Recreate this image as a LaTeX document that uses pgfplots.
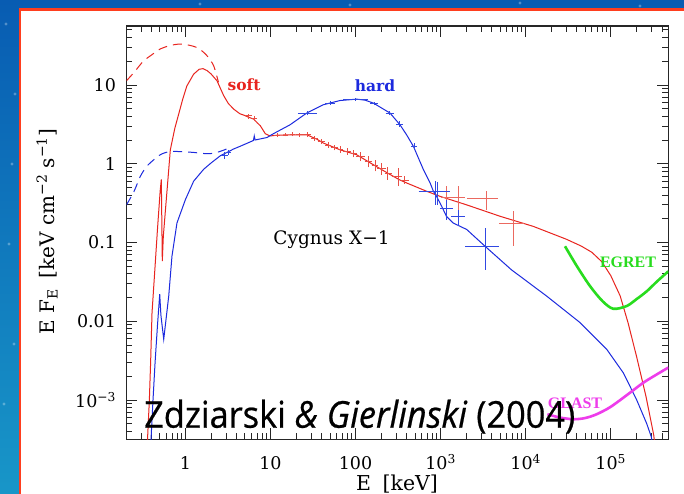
\documentclass[border=0pt]{standalone}
\usepackage{pgfplots}
\pgfplotsset{compat=1.18}
\usepackage{fontspec}
\setmainfont{DejaVu Serif}
\newfontfamily\labelfont{Liberation Serif}
\newfontfamily\notefont[FakeBold=0.6]{Open Sans}

\definecolor{specred}{RGB}{232,36,30}
\definecolor{specblue}{RGB}{28,42,222}
\definecolor{datared}{RGB}{232,78,68}
\definecolor{datablue}{RGB}{48,72,226}
\definecolor{egret}{RGB}{40,220,30}
\definecolor{glast}{RGB}{238,60,235}
\definecolor{framered}{RGB}{255,62,30}
\definecolor{skytop}{RGB}{8,92,178}
\definecolor{skybottom}{RGB}{24,150,200}

\begin{document}
\begin{tikzpicture}[x=1pt,y=1pt]
\useasboundingbox (0,0) rectangle (684,494);
% slide background
\fill[top color=skytop, bottom color=skybottom] (0,0) rectangle (684,494);
\foreach \p in {(6,470),(12,330),(9,250),(14,150),(4,90),(200,490),(350,489),(520,491),(640,488),(15,400)}
  \fill[white, opacity=0.3] \p circle (1.6);
\clip (0,0) rectangle (684,494);
\filldraw[fill=white, draw=framered, line width=2.5] (20,-10) rectangle (700,484.5);

\begin{axis}[
  at={(126.5pt,54.7pt)}, anchor=south west,
  scale only axis, width=541.8pt, height=413.3pt,
  xmode=log, ymode=log,
  xmin=0.203, xmax=4.75e5, ymin=3.17e-4, ymax=56,
  axis line style={line width=1.1pt, black!85},
  tick align=inside, xtick pos=both, ytick pos=both,
  major tick length=11pt, minor tick length=6pt,
  tick style={line width=0.8pt, black!85},
  xtick={1,10,100,1000,10000,100000},
  xticklabels={1,10,100,10\textsuperscript{3},10\textsuperscript{4},10\textsuperscript{5}},
  minor xtick={0.3,0.4,0.5,0.6,0.7,0.8,0.9,2,3,4,5,6,7,8,9,20,30,40,50,60,70,80,90,
    200,300,400,500,600,700,800,900,2000,3000,4000,5000,6000,7000,8000,9000,
    20000,30000,40000,50000,60000,70000,80000,90000,200000,300000,400000},
  ytick={0.001,0.01,0.1,1,10},
  yticklabels={10\textsuperscript{−3},0.01,0.1,1,10},
  minor ytick={0.0004,0.0005,0.0006,0.0007,0.0008,0.0009,
    0.002,0.003,0.004,0.005,0.006,0.007,0.008,0.009,
    0.02,0.03,0.04,0.05,0.06,0.07,0.08,0.09,
    0.2,0.3,0.4,0.5,0.6,0.7,0.8,0.9,2,3,4,5,6,7,8,9,20,30,40,50},
  tick label style={font=\fontsize{17.5}{20}\selectfont},
  xticklabel style={text height=13pt, yshift=-14pt},
  yticklabel style={xshift=-7pt},
  unbounded coords=jump,
  clip=true,
]

% soft state: intrinsic (unabsorbed) model
\addplot[specred, line width=1pt, dash pattern=on 9pt off 6pt, smooth] coordinates {
 (0.203,11.3) (0.25,14.5) (0.32,20) (0.4,24) (0.5,28.4) (0.65,31.5) (0.85,33)
 (1.1,32) (1.37,29.8) (1.6,26.5) (1.8,23.4) (2.0,20) (2.15,17.5) (2.3,13.8) (2.45,10.8)
};
% hard state: intrinsic (unabsorbed) model
\addplot[specblue, line width=1pt, dash pattern=on 9pt off 6pt, smooth] coordinates {
 (0.203,0.3) (0.25,0.45) (0.295,0.69) (0.35,0.92) (0.424,1.12) (0.52,1.32) (0.665,1.43)
 (0.9,1.42) (1.25,1.39) (1.6,1.35) (1.96,1.34) (2.5,1.42) (3.08,1.54) (3.5,1.58)
};

% soft state: absorbed model
\addplot[specred, line width=1pt] coordinates {
 (0.355,0.00025) (0.377,0.001) (0.39,0.003) (0.405,0.0128) (0.436,0.043) (0.47,0.15)
 (0.505,0.45) (0.521,0.63) (0.535,0.058) (0.55,0.12) (0.596,0.35) (0.665,1.5)
 (0.75,2.8) (0.834,4.27) (0.93,6.6) (1.04,9.7) (1.25,13.7) (1.45,15.8) (1.61,16.1)
 (1.8,15.2) (2.0,13.8) (2.35,11.3) (2.82,7.3) (3.2,5.8) (3.7,4.93) (4.38,4.3)
 (4.85,4.14) (5.5,3.9) (6.35,3.68) (7.0,3.3) (7.6,3.03) (8.7,2.4) (9.9,2.25)
 (12,2.3) (17,2.33) (26.7,2.33) (35,2.05) (41.8,1.83) (65.8,1.5) (103,1.3)
 (162,0.97) (254,0.73) (333,0.62) (398,0.57) (687,0.446) (985,0.385) (2027,0.30)
 (5000,0.215) (12300,0.16) (30000,0.11) (45000,0.09) (60000,0.075) (78500,0.057)
 (100000,0.038) (129000,0.021) (160000,0.0095) (202000,0.0035) (260000,0.0011)
 (320000,0.00036) (350000,0.00016)
};
% hard state: absorbed model
\addplot[specblue, line width=1pt] coordinates {
 (0.39,0.00025) (0.416,0.001) (0.44,0.003) (0.47,0.009) (0.499,0.022) (0.515,0.012)
 (0.556,0.0059) (0.6,0.012) (0.637,0.021) (0.695,0.067) (0.796,0.177) (1.0,0.35)
 (1.25,0.6) (1.64,0.85) (2.0,1.02) (2.57,1.26) (3.7,1.54) (4.38,1.66) (6.3,1.97)
 (6.45,2.25) (6.6,2.0) (9.1,2.15) (10.8,2.4) (17,3.12) (26.7,4.4) (41.8,5.6)
 (65.8,6.34) (103,6.6) (130,6.4) (162,5.88) (254,4.4) (333,3.12) (398,2.33)
 (479,1.66) (628,0.84) (753,0.57) (820,0.45) (895,0.385) (1030,0.288) (1170,0.215)
 (1400,0.177) (2030,0.146) (3330,0.0895) (6800,0.045) (17700,0.0208) (43600,0.0096)
 (89700,0.0044) (141000,0.0022) (202000,0.001) (265000,0.0005) (300000,0.00034)
 (320000,0.00022)
};

% soft state data (E range and flux range of each bin)
\addplot[datared, line width=0.8pt] coordinates {
 (11,2.3) (13,2.3) (nan,nan) (12,2.2) (12,2.42) (nan,nan)
 (14,2.32) (16,2.32) (nan,nan) (15,2.22) (15,2.44) (nan,nan)
 (17,2.36) (19.5,2.36) (nan,nan) (18,2.24) (18,2.5) (nan,nan)
 (20,2.33) (24.5,2.33) (nan,nan) (22,2.2) (22,2.47) (nan,nan)
 (24.5,2.35) (30,2.35) (nan,nan) (27,2.2) (27,2.52) (nan,nan)
 (30,2.1) (36,2.1) (nan,nan) (33,1.95) (33,2.25) (nan,nan)
 (36,1.92) (44,1.92) (nan,nan) (40,1.78) (40,2.08) (nan,nan)
 (44,1.72) (52,1.72) (nan,nan) (48,1.6) (48,1.86) (nan,nan)
 (52,1.6) (62,1.6) (nan,nan) (57,1.48) (57,1.74) (nan,nan)
 (62,1.5) (72,1.5) (nan,nan) (66,1.38) (66,1.66) (nan,nan)
 (72,1.42) (88,1.42) (nan,nan) (80,1.3) (80,1.56) (nan,nan)
 (88,1.34) (104,1.34) (nan,nan) (95,1.2) (95,1.5) (nan,nan)
 (100,1.25) (130,1.25) (nan,nan) (115,1.08) (115,1.42) (nan,nan)
 (128,1.06) (155,1.06) (nan,nan) (140,0.9) (140,1.25) (nan,nan)
 (155,0.96) (185,0.96) (nan,nan) (170,0.8) (170,1.12) (nan,nan)
 (180,0.86) (225,0.86) (nan,nan) (200,0.72) (200,1.02) (nan,nan)
 (220,0.75) (265,0.75) (nan,nan) (240,0.63) (240,0.9) (nan,nan)
 (265,0.68) (350,0.68) (nan,nan) (318,0.52) (318,0.89) (nan,nan)
 (340,0.62) (430,0.62) (nan,nan) (380,0.55) (380,0.7) (nan,nan)
 (5,4.05) (6,4.05) (nan,nan) (5.5,3.7) (5.5,4.3) (nan,nan)
 (6,3.72) (7,3.72) (nan,nan) (6.5,3.45) (6.5,4.0) (nan,nan)
};
\addplot[datared!85!white, line width=1pt] coordinates {
 (1020,0.37) (1380,0.37) (nan,nan) (1170,0.2) (1170,0.52) (nan,nan)
 (1380,0.37) (1940,0.37) (nan,nan) (1620,0.24) (1620,0.52) (nan,nan)
 (2030,0.36) (4750,0.36) (nan,nan) (3480,0.26) (3480,0.445) (nan,nan)
 (4900,0.174) (9620,0.174) (nan,nan) (7160,0.091) (7160,0.249) (nan,nan)
};

% hard state data
\addplot[datablue, line width=0.8pt] coordinates {
 (21,4.35) (35,4.35) (nan,nan) (27,4.1) (27,4.6) (nan,nan)
 (44,5.9) (57,5.9) (nan,nan) (50,5.6) (50,6.2) (nan,nan)
 (72,6.6) (141,6.6) (nan,nan) (100,6.3) (100,6.9) (nan,nan)
 (148,5.85) (185,5.85) (nan,nan) (165,5.55) (165,6.15) (nan,nan)
 (225,4.4) (280,4.4) (nan,nan) (250,4.1) (250,4.7) (nan,nan)
 (300,3.2) (365,3.2) (nan,nan) (330,2.95) (330,3.45) (nan,nan)
 (450,1.68) (530,1.68) (nan,nan) (490,1.5) (490,1.85) (nan,nan)
 (2.6,1.26) (3.2,1.26) (nan,nan) (2.9,1.15) (2.9,1.4) (nan,nan)
 (3.0,1.4) (3.4,1.4) (nan,nan) (3.2,1.3) (3.2,1.5) (nan,nan)
};
\addplot[datablue, line width=1pt] coordinates {
 (550,0.446) (1290,0.446) (nan,nan) (861,0.3) (861,0.6) (nan,nan) (930,0.3) (930,0.58) (nan,nan)
 (985,0.267) (1400,0.267) (nan,nan) (1170,0.195) (1170,0.35) (nan,nan)
 (1330,0.215) (1940,0.215) (nan,nan) (1620,0.16) (1620,0.26) (nan,nan)
 (1940,0.0895) (4800,0.0895) (nan,nan) (3330,0.045) (3330,0.153) (nan,nan)
};

% gamma-ray sensitivity curves
\addplot[egret, line width=2.6pt, smooth] coordinates {
 (29000,0.0895) (40000,0.05) (57100,0.0279) (80000,0.018) (107000,0.0144)
 (154000,0.0156) (200000,0.019) (265000,0.024) (350000,0.032) (475000,0.043)
};
\addplot[glast, line width=2.6pt, smooth] coordinates {
 (18000,0.00066) (25000,0.0006) (36300,0.00057) (50000,0.00059) (68400,0.00066)
 (100000,0.00082) (169000,0.00124) (250000,0.0017) (475000,0.00258)
};
\end{axis}

% annotations
\node[anchor=base, text=specred, font=\fontsize{15.5}{17}\selectfont\bfseries] at (244,403) {soft};
\node[anchor=base, text=specblue, font=\fontsize{15.5}{17}\selectfont\bfseries] at (375,402.3) {hard};
\node[anchor=base, font=\fontsize{18.5}{20}\selectfont] at (331.5,249) {Cygnus X−1};
\node[anchor=base, text=egret, font=\labelfont\fontsize{16}{18}\selectfont\bfseries] at (628,226) {EGRET};
\node[anchor=base, text=glast, font=\labelfont\fontsize{16}{18}\selectfont\bfseries] at (575,85) {GLAST};
\node[anchor=base west, inner sep=0pt] at (144,66.3)
  {\resizebox{431pt}{\height}{\notefont\fontsize{37}{40}\selectfont Zdziarski \textit{\& Gierlinski} (2004)}};

% axis titles
\node[anchor=base, font=\fontsize{20.5}{22}\selectfont] at (397,3.5) {E\hspace{0.25em} [keV]};
\node[rotate=90, font=\fontsize{20}{22}\selectfont] at (47,262.3) {E F\textsubscript{E}\hspace{0.2em} [keV cm\textsuperscript{−2} s\textsuperscript{−1}]};
\end{tikzpicture}
\end{document}
